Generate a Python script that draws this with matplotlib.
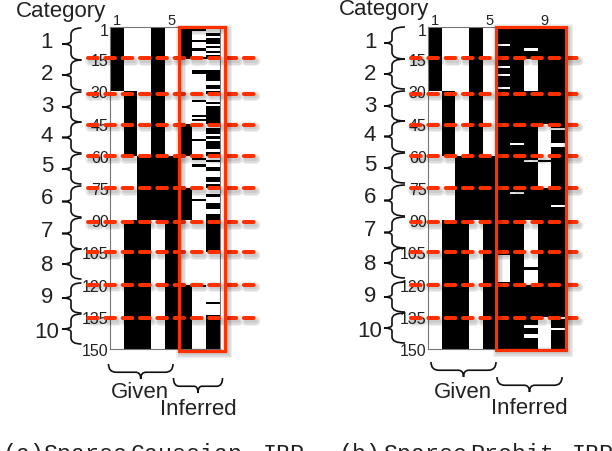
import numpy as np
import matplotlib
matplotlib.use('Agg')
import matplotlib.pyplot as plt
import matplotlib.patheffects as pe
from matplotlib.path import Path
from matplotlib.patches import PathPatch, Rectangle
from matplotlib.transforms import ScaledTranslation

plt.rcParams['font.family'] = ['Liberation Sans', 'DejaVu Sans']

W, H = 612, 452
RED = '#ff3000'
INK = '#222222'

y_ticks = [1, 15, 30, 45, 60, 75, 90, 105, 120, 135, 150]
categories = ['1', '2', '3', '4', '5', '6', '7', '8', '9', '10']
split_rows = [14.5, 31, 45.5, 60, 75, 91, 105, 120, 135.5]

# black runs per column, (first row, end row)
given = [
    [(0, 30)],
    [(30, 60), (90, 150)],
    [(60, 150)],
    [(0, 90)],
    [(60, 150)],
]
gauss_inferred = [
    [(0, 15), (45, 60), (75, 90), (120, 150)],
    [(1, 2), (6, 7), (10, 11), (14, 15), (20, 22), (34, 35), (41, 42), (43, 44),
     (52, 53), (61, 62), (64, 65), (80, 81), (120, 121)],
    [(3, 4), (5, 8), (9, 10), (11, 12), (13, 15), (20, 25), (27, 29), (30, 31),
     (35, 36), (37, 45), (47, 50), (51, 52), (53, 57), (58, 60), (62, 63), (65, 67),
     (70, 72), (73, 75), (78, 79), (82, 85), (87, 105), (128, 129), (134, 150)],
]
# white runs here, the rest of the inferred block is black
probit_white = [
    [(8, 9), (18, 19), (22, 23), (28, 29), (106, 119)],
    [(54, 55), (77, 78)],
    [(10, 11), (15, 30), (62, 63), (90, 112), (113, 120), (139, 140), (143, 145)],
    [(45, 62), (63, 75), (135, 150)],
    [(47, 48), (54, 56), (83, 84), (135, 136), (140, 141)],
]


def black_column(runs):
    col = np.zeros(150)
    for a, b in runs:
        col[a:b] = 1
    return col


def white_column(runs):
    col = np.ones(150)
    for a, b in runs:
        col[a:b] = 0
    return col


gauss = np.column_stack([black_column(r) for r in given + gauss_inferred])
probit = np.column_stack([black_column(r) for r in given] + [white_column(r) for r in probit_white])

fig = plt.figure(figsize=(W / 100, H / 100), dpi=100)


def shadows():
    return [pe.SimpleLineShadow(offset=(1.5, -2), shadow_color='k', alpha=0.07, linewidth=w) for w in (7, 5, 3)] + [pe.Normal()]


def panel(left, right, top, bottom, data, xticks, line_from, line_to):
    ax = fig.add_axes([left / W, 1 - bottom / H, (right - left) / W, (bottom - top) / H])
    ax.imshow(data, cmap='gray_r', vmin=0, vmax=1, aspect='auto', interpolation='nearest',
              extent=(0, data.shape[1], 150, 0))
    ax.xaxis.tick_top()
    ax.set_xticks([t - 0.5 for t in xticks])
    ax.set_xticklabels([str(t) for t in xticks], fontsize=10.5, color=INK)
    ax.set_yticks(y_ticks)
    ax.set_yticklabels([str(t) for t in y_ticks], fontsize=11.5, va='center', color=INK)
    ax.tick_params(axis='both', length=0, pad=1)
    ax.tick_params(axis='x', pad=0)
    # the labels sit a little under their rows in the original
    down = ScaledTranslation(0, -1.5 / 100, fig.dpi_scale_trans)
    for lab in ax.get_yticklabels():
        lab.set_transform(lab.get_transform() + down)
    for s in ax.spines.values():
        s.set_color('#777777')
        s.set_linewidth(0.8)
    for r in split_rows:
        ax.plot([line_from, line_to], [r, r], transform=ax.get_yaxis_transform(), color=RED, lw=2.9,
                dashes=(2.4, 1.9), dash_capstyle='round', clip_on=False, zorder=5,
                path_effects=shadows())
    ax.set_ylim(150, 0)
    return ax


panel(110, 220, 28, 350, gauss, [1, 5], -0.2, 1.336)
panel(428, 565, 28, 350, probit, [1, 5, 9], -0.124, 1.11)

over = fig.add_axes([0, 0, 1, 1], zorder=10)
over.set_xlim(0, W)
over.set_ylim(H, 0)
over.axis('off')


def vbrace(xtip, xm, xe, y0, y1):
    ym = (y0 + y1) / 2
    h = y1 - y0
    codes = [Path.MOVETO, Path.CURVE3, Path.CURVE3, Path.LINETO, Path.CURVE3, Path.CURVE3,
             Path.CURVE3, Path.CURVE3, Path.LINETO, Path.CURVE3, Path.CURVE3]
    verts = [(xe, y0), (xm, y0), (xm, y0 + 0.2 * h), (xm, ym - 0.1 * h),
             (xm, ym), (xtip, ym), (xm, ym), (xm, ym + 0.1 * h), (xm, y1 - 0.2 * h),
             (xm, y1), (xe, y1)]
    over.add_patch(PathPatch(Path(verts, codes), fc='none', ec='#111111', lw=1.2))


def hbrace(x0, x1, ytop, ytip):
    xm = (x0 + x1) / 2
    w = x1 - x0
    yc = ytop + (ytip - ytop) * 0.55
    codes = [Path.MOVETO, Path.CURVE3, Path.CURVE3, Path.LINETO, Path.CURVE3, Path.CURVE3,
             Path.CURVE3, Path.CURVE3, Path.LINETO, Path.CURVE3, Path.CURVE3]
    verts = [(x0, ytop), (x0, yc), (x0 + 0.12 * w, yc), (xm - 0.08 * w, yc), (xm, yc), (xm, ytip),
             (xm, yc), (xm + 0.08 * w, yc), (x1 - 0.12 * w, yc), (x1, yc), (x1, ytop)]
    over.add_patch(PathPatch(Path(verts, codes), fc='none', ec='#111111', lw=1.2))


brace_tops = [29, 61, 93, 123, 155, 187, 219, 250, 284, 315]
brace_ends = [61, 91, 123, 154, 185, 218, 250, 280, 314, 345]
label_ys = [43, 75, 107, 137, 167, 199, 232, 266, 298, 333]

for num_x, tip, mid, end, shift in [(47, 62, 71, 81.5, 0), (370, 384, 392, 405, -1)]:
    for c, y0, y1, ly in zip(categories, brace_tops, brace_ends, label_ys):
        over.text(num_x, ly + shift, c, fontsize=16, ha='center', va='center', color=INK)
        vbrace(tip, mid, end, y0 + shift, y1 + shift)

over.text(61, 11, 'Category', fontsize=16, ha='center', va='center', color=INK)
over.text(384, 10, 'Category', fontsize=16, ha='center', va='center', color=INK)

for x0, y0, x1, y1 in [(179, 28, 225, 351.5), (496, 27.5, 566, 350.5)]:
    over.add_patch(Rectangle((x0, y0), x1 - x0, y1 - y0, fc='none', ec=RED, lw=2.3,
                             joinstyle='miter', path_effects=shadows()))

hbrace(108.5, 173, 365, 380)
hbrace(173.5, 222.5, 379, 394)
hbrace(431, 496, 363, 378)
hbrace(497, 562, 378, 393)

over.text(140, 393, 'Given', fontsize=16, ha='center', va='center', color=INK)
over.text(198, 410, 'Inferred', fontsize=16, ha='center', va='center', color=INK)
over.text(463, 393, 'Given', fontsize=16, ha='center', va='center', color=INK)
over.text(529, 409, 'Inferred', fontsize=16, ha='center', va='center', color=INK)

# caption is cut by the bottom edge of the picture
for x, s in [(2, '(a)'), (43, 'Sparse'), (131, 'Gaussian'), (263, 'IBP'),
             (338, '(b)'), (383, 'Sparse'), (470, 'Probit'), (572, 'IBP')]:
    over.text(x, 461, s, family='Liberation Mono', fontsize=16.8, ha='left', va='baseline', color=INK, clip_on=False)

fig.savefig('out.png', dpi=100)
